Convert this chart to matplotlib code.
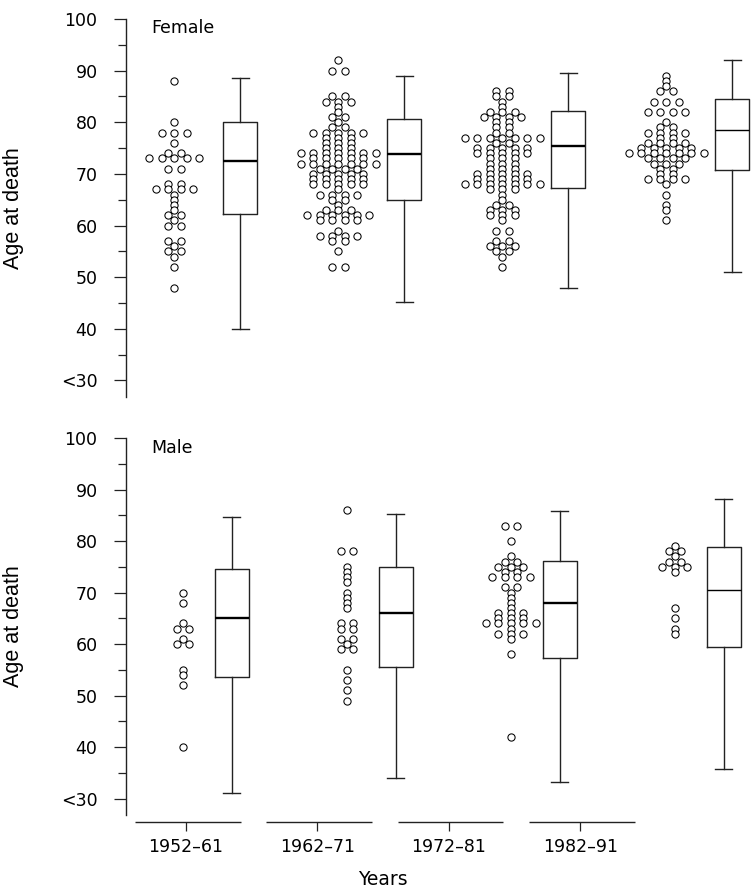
import matplotlib
matplotlib.use('Agg')
import matplotlib.pyplot as plt
from matplotlib.ticker import MultipleLocator

plt.rcParams['font.family'] = ['DejaVu Sans']

periods = ['1952–61', '1962–71', '1972–81', '1982–91']

# Individual deaths: age at death and how many at that age
f52_age = [88, 80, 78, 76, 74, 73, 71, 68, 67, 66, 65, 64, 63, 62, 61, 60, 57, 56, 55, 54, 52, 48]
f52_n = [1, 1, 3, 1, 2, 5, 2, 2, 4, 1, 1, 1, 1, 2, 1, 2, 2, 1, 2, 1, 1, 1]
f62_age = [92, 90, 85, 84, 83, 82, 81, 80, 79, 78, 77, 76, 75, 74, 73, 72, 71, 70, 69, 68,
           67, 66, 65, 64, 63, 62, 61, 59, 58, 57, 55, 52]
f62_n = [1, 2, 2, 3, 1, 1, 2, 1, 2, 5, 3, 3, 3, 7, 5, 7, 4, 5, 5, 5,
         1, 4, 2, 1, 3, 6, 4, 1, 4, 2, 1, 2]
f72_age = [86, 85, 84, 83, 82, 81, 80, 79, 78, 77, 76, 75, 74, 73, 72, 71, 70, 69, 68, 67,
           66, 65, 64, 63, 62, 61, 59, 57, 56, 55, 54, 52]
f72_n = [2, 2, 1, 1, 3, 4, 2, 2, 2, 7, 2, 5, 5, 3, 3, 3, 5, 5, 7, 3,
         1, 1, 2, 3, 3, 1, 2, 2, 3, 2, 1, 1]
f82_age = [89, 88, 87, 86, 84, 82, 80, 79, 78, 77, 76, 75, 74, 73, 72, 71, 70, 69, 68, 66,
           64, 63, 61]
f82_n = [1, 1, 1, 2, 3, 4, 1, 2, 4, 2, 4, 5, 7, 4, 3, 2, 2, 4, 1, 1,
         1, 1, 1]

m52_age = [70, 68, 64, 63, 61, 60, 55, 54, 52, 40]
m52_n = [1, 1, 1, 2, 1, 2, 1, 1, 1, 1]
m62_age = [86, 78, 75, 74, 73, 72, 70, 69, 68, 67, 64, 63, 61, 60, 59, 55, 53, 51, 49]
m62_n = [1, 2, 1, 1, 1, 1, 1, 1, 1, 1, 2, 2, 2, 1, 2, 1, 1, 1, 1]
m72_age = [83, 80, 77, 76, 75, 74, 73, 71, 70, 69, 68, 67, 66, 65, 64, 63, 62, 61, 58, 42]
m72_n = [2, 1, 1, 2, 3, 2, 4, 2, 1, 1, 1, 1, 3, 3, 5, 1, 3, 1, 1, 1]
m82_age = [79, 78, 77, 76, 75, 74, 67, 65, 63, 62]
m82_n = [1, 2, 1, 2, 3, 1, 1, 1, 1, 1]

# Box plots: lower whisker, lower quartile, median, upper quartile, upper whisker
f_box = [[40, 62.2, 72.5, 80.0, 88.5],
         [45.2, 64.9, 73.8, 80.6, 89.0],
         [48.0, 67.2, 75.4, 82.2, 89.5],
         [51.0, 70.7, 78.5, 84.6, 92.0]]
m_box = [[31.0, 53.5, 65.0, 74.6, 84.7],
         [34.0, 55.6, 66.0, 74.9, 85.2],
         [33.2, 57.3, 67.9, 76.1, 85.9],
         [35.8, 59.4, 70.5, 78.8, 88.1]]

y_ticks = [30, 40, 50, 60, 70, 80, 90, 100]
y_labels = ['<30', '40', '50', '60', '70', '80', '90', '100']

female_dots = [(f52_age, f52_n), (f62_age, f62_n), (f72_age, f72_n), (f82_age, f82_n)]
male_dots = [(m52_age, m52_n), (m62_age, m62_n), (m72_age, m72_n), (m82_age, m82_n)]

W, H = 753, 891
fig = plt.figure(figsize=(W / 100, H / 100), dpi=100)

STEP = 0.076      # horizontal gap between dots at the same age
DARK = '#222222'
MED_LW = [1.7, 1.7, 1.7, 1.0]   # last period drawn with a thinner median


def dot_xy(ages, counts, centre):
    xs, ys = [], []
    for a, n in zip(ages, counts):
        for k in range(n):
            xs.append(centre + (k - (n - 1) / 2) * STEP)
            ys.append(a)
    return xs, ys


def panel(top, bottom, title, dots, boxes, offset, title_y):
    ax = fig.add_axes([126 / W, 1 - bottom / H, (W - 126) / W, (bottom - top) / H])
    ax.set_ylim(26.8, 100)
    for s in ['top', 'right', 'bottom']:
        ax.spines[s].set_visible(False)
    ax.spines['left'].set_linewidth(1.0)
    ax.spines['left'].set_color(DARK)
    ax.set_xticks([])
    ax.set_yticks(y_ticks)
    ax.set_yticklabels(y_labels)
    ax.yaxis.set_minor_locator(MultipleLocator(10, offset=5))
    ax.tick_params(axis='y', which='major', length=8.5, width=0.9, color=DARK,
                   labelsize=12.5, pad=12)
    ax.tick_params(axis='y', which='minor', length=6, width=0.9, color=DARK)
    ax.set_ylabel('Age at death', fontsize=15.5, family=['Liberation Sans', 'DejaVu Sans'])
    ax.yaxis.set_label_coords(-0.162, 0.5)

    for i, (ages, counts) in enumerate(dots):
        xs, ys = dot_xy(ages, counts, i - offset)
        ax.plot(xs, ys, 'o', ms=5.2, mfc='white', mec='black', mew=0.75, clip_on=False)

    for i, b in enumerate(boxes):
        stats = [dict(whislo=b[0], q1=b[1], med=b[2], q3=b[3], whishi=b[4], fliers=[])]
        ax.bxp(stats, positions=[i + offset], widths=0.207, capwidths=0.104,
               showfliers=False,
               boxprops=dict(color=DARK, linewidth=1.0),
               whiskerprops=dict(color=DARK, linewidth=1.0),
               capprops=dict(color=DARK, linewidth=1.0),
               medianprops=dict(color='black', linewidth=MED_LW[i]),
               manage_ticks=False)
    ax.set_xlim(-0.4954, 3.3277)
    ax.text(0.041, title_y, title, transform=ax.transAxes, fontsize=12.5,
            ha='left', va='baseline')
    return ax


panel(19, 397, 'Female', female_dots, f_box, 0.201, 0.963)
panel(438, 815, 'Male', male_dots, m_box, 0.149, 0.960)

# bottom category axis, drawn as separate segments
axb = fig.add_axes([120.25 / W, 1 - 822 / H, 525.75 / W, 0.001])
axb.patch.set_visible(False)
for s in axb.spines.values():
    s.set_visible(False)
axb.set_xlim(-0.5, 3.5)
axb.set_ylim(0, 1)
axb.hlines([0] * len(periods), [i - 0.39 for i in range(len(periods))],
           [i + 0.415 for i in range(len(periods))], color=DARK, linewidth=1.0,
           clip_on=False)
axb.set_yticks([])
axb.set_xticks(range(len(periods)))
axb.set_xticklabels(periods)
axb.tick_params(axis='x', length=6.5, width=0.9, color=DARK, labelsize=12.5, pad=5)
axb.set_xlabel('Years', fontsize=13.5, labelpad=10)

fig.savefig('out.png', dpi=100)
